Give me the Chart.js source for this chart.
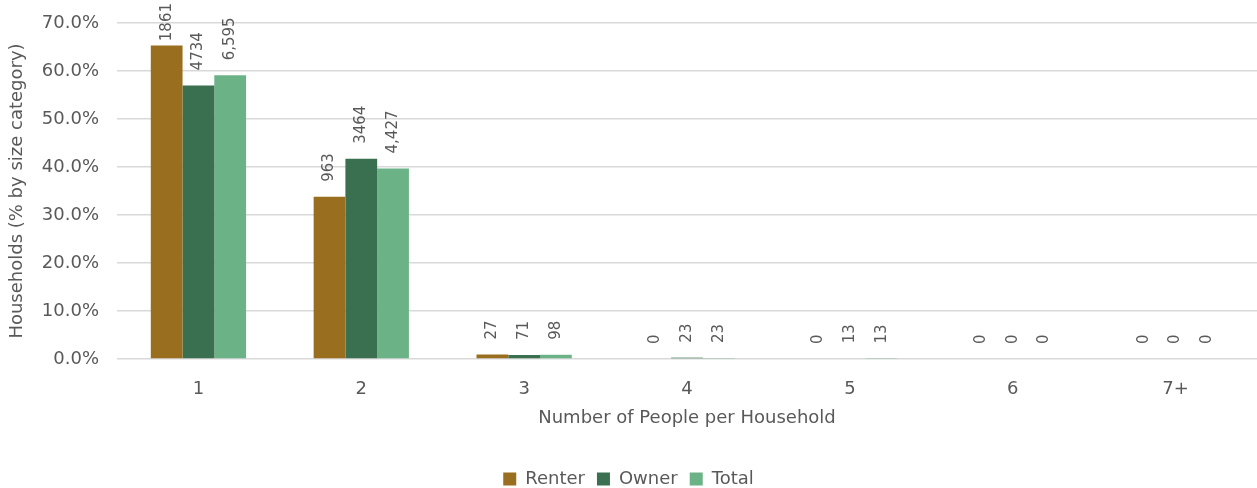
<!DOCTYPE html>
<html>
<head>
<meta charset="utf-8">
<script src="https://cdn.jsdelivr.net/npm/chart.js@4/dist/chart.umd.min.js"></script>
<style>
  html, body { margin: 0; padding: 0; background: #fff; }
  #wrap { width: 1257px; height: 488px; }
</style>
</head>
<body>
<div id="wrap"><canvas id="chart" width="1257" height="488"></canvas></div>
<script>
const categories = ['1', '2', '3', '4', '5', '6', '7+'];

// share of households in each size category (%)
const renterPct = [65.3, 33.8, 0.95, 0, 0, 0, 0];
const ownerPct = [57.0, 41.7, 0.85, 0.28, 0.16, 0, 0];
const totalPct = [59.1, 39.7, 0.88, 0.21, 0.12, 0, 0];

// household counts shown above bars
const renterCount = ['1861', '963', '27', '0', '0', '0', '0'];
const ownerCount = ['4734', '3464', '71', '23', '13', '0', '0'];
const totalCount = ['6,595', '4,427', '98', '23', '13', '0', '0'];

const FONT = "'DejaVu Sans', 'Liberation Sans', sans-serif";
const GREY = '#595959';

// rotated count labels above each bar
const countLabels = {
    id: 'countLabels',
    afterDatasetsDraw(chart) {
        const ctx = chart.ctx;
        ctx.save();
        ctx.font = '15px ' + FONT;
        ctx.fillStyle = GREY;
        ctx.textAlign = 'left';
        ctx.textBaseline = 'middle';
        chart.data.datasets.forEach((ds, i) => {
            const meta = chart.getDatasetMeta(i);
            meta.data.forEach((bar, j) => {
                const txt = ds.counts[j];
                const w = ctx.measureText(txt).width;
                let bottom = bar.y - 15;
                if (bottom - w < 3) bottom = 3 + w;
                ctx.save();
                ctx.translate(bar.x, bottom);
                ctx.rotate(-Math.PI / 2);
                ctx.fillText(txt, 0, 0);
                ctx.restore();
            });
        });
        ctx.restore();
    }
};

const ctx = document.getElementById('chart').getContext('2d');
new Chart(ctx, {
    type: 'bar',
    data: {
        labels: categories,
        datasets: [
            { label: 'Renter', data: renterPct, counts: renterCount, backgroundColor: '#9A6E1F' },
            { label: 'Owner', data: ownerPct, counts: ownerCount, backgroundColor: '#3A7050' },
            { label: 'Total', data: totalPct, counts: totalCount, backgroundColor: '#6BB287' }
        ]
    },
    options: {
        responsive: false,
        animation: false,
        layout: { padding: { top: 23, right: 0, left: 0, bottom: -10 } },
        datasets: {
            bar: { categoryPercentage: 0.585, barPercentage: 1, borderWidth: 0 }
        },
        plugins: {
            legend: {
                position: 'bottom',
                labels: {
                    font: { family: FONT, size: 18 },
                    color: GREY,
                    boxWidth: 13,
                    boxHeight: 13,
                    padding: 12
                }
            },
            tooltip: { enabled: false }
        },
        scales: {
            x: {
                grid: { display: false, drawTicks: false },
                border: { display: false },
                ticks: { font: { family: FONT, size: 18 }, color: GREY, padding: 20 },
                title: {
                    display: true,
                    text: 'Number of People per Household',
                    font: { family: FONT, size: 18 },
                    color: GREY,
                    padding: { top: 0, bottom: 29 }
                },
                afterFit(scale) { scale.height = 99; }
            },
            y: {
                min: 0,
                max: 70,
                ticks: {
                    stepSize: 10,
                    font: { family: FONT, size: 18 },
                    color: GREY,
                    padding: 18,
                    callback: v => v.toFixed(1) + '%'
                },
                grid: { color: '#d9d9d9', lineWidth: 1.5, drawTicks: false },
                border: { display: false },
                title: {
                    display: true,
                    text: 'Households (% by size category)',
                    font: { family: FONT, size: 18 },
                    color: GREY,
                    padding: { top: 7, bottom: 0 }
                },
                afterFit(scale) {
                    scale.width = 117;
                    scale.paddingTop = 0;
                    scale.paddingBottom = 0;
                }
            }
        }
    },
    plugins: [countLabels]
});
</script>
</body>
</html>
